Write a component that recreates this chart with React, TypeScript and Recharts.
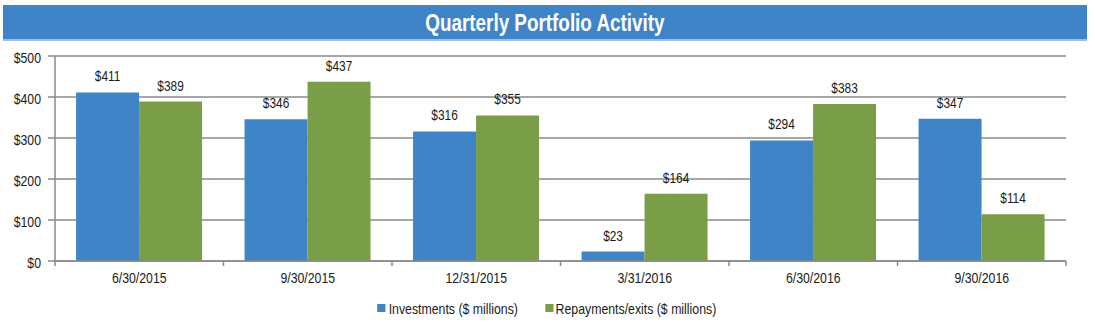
import React from "react";
import { BarChart, Bar, XAxis, YAxis, CartesianGrid, LabelList, Legend } from "recharts";

const categories = ["6/30/2015", "9/30/2015", "12/31/2015", "3/31/2016", "6/30/2016", "9/30/2016"];
const investments = [411, 346, 316, 23, 294, 347];
const repayments = [389, 437, 355, 164, 383, 114];
const yTicks = [0, 100, 200, 300, 400, 500];

const data = categories.map((c, i) => ({ date: c, investments: investments[i], repayments: repayments[i] }));

const FONT = '"Liberation Sans", Arial, sans-serif';
const SX = 0.82;
const BLUE = "#3F84C6";
const GREEN = "#7A9D48";
const GRID = "#8a8a8a";
const TXT = "#1a1a1a";

const XTick = (props: any) => {
  const { x, y, payload, index, visibleTicksCount } = props;
  const half = payload && payload.offset ? payload.offset : 84.25;
  const isLast = index === (visibleTicksCount ?? categories.length) - 1;
  return (
    <g>
      <line x1={x - half} x2={x - half} y1={y - 8} y2={y - 3} stroke={GRID} strokeWidth={1.5} />
      {isLast && <line x1={x + half} x2={x + half} y1={y - 8} y2={y - 3} stroke={GRID} strokeWidth={1.5} />}
      <g transform={`translate(${x},${y + 14}) scale(${SX},1)`}>
        <text x={0} y={0} textAnchor="middle" fontFamily={FONT} fontSize={15} fill={TXT}>
          {payload.value}
        </text>
      </g>
    </g>
  );
};

const YTick = (props: any) => {
  const { x, y, payload } = props;
  return (
    <g transform={`translate(${x},${y + 2}) scale(${SX},1)`}>
      <text x={0} y={0} dy="0.36em" textAnchor="end" fontFamily={FONT} fontSize={15} fill={TXT}>
        {`$${payload.value}`}
      </text>
    </g>
  );
};

const ValueLabel = (props: any) => {
  const { x, y, width, value } = props;
  const cx = x + width / 2;
  return (
    <g transform={`translate(${cx},${y - 11}) scale(${SX},1)`}>
      <text x={0} y={0} textAnchor="middle" fontFamily={FONT} fontSize={14.5} fill={TXT}>
        {`$${value}`}
      </text>
    </g>
  );
};

const LegendContent = () => (
  <div style={{ display: "flex", justifyContent: "center", height: 30, alignItems: "center", paddingLeft: 27, boxSizing: "border-box" }}>
    <div
      style={{
        display: "flex",
        alignItems: "center",
        fontFamily: FONT,
        fontSize: 15,
        color: TXT,
        transform: `scaleX(${SX})`,
        transformOrigin: "center",
        whiteSpace: "nowrap",
      }}
    >
      <span style={{ display: "flex", alignItems: "center", marginRight: 33 }}>
        <span style={{ width: 10, height: 8, background: BLUE, display: "inline-block", marginRight: 4 }} />
        Investments ($ millions)
      </span>
      <span style={{ display: "flex", alignItems: "center" }}>
        <span style={{ width: 10, height: 8, background: GREEN, display: "inline-block", marginRight: 3 }} />
        Repayments/exits ($ millions)
      </span>
    </div>
  </div>
);

export default function App() {
  return (
    <div style={{ position: "absolute", left: 0, top: 0, width: 1095, height: 323, background: "#fff" }}>
      <div
        style={{
          position: "absolute",
          left: 3,
          top: 5,
          width: 1084,
          height: 36,
          background: "#3F84C6",
          borderBottom: "2px solid #9cc0e4",
          display: "flex",
          alignItems: "center",
          justifyContent: "center",
          paddingTop: 2,
          boxSizing: "border-box",
        }}
      >
        <span
          style={{
            color: "#fff",
            fontFamily: FONT,
            fontWeight: "bold",
            fontSize: 23,
            transform: `scaleX(${SX})`,
            whiteSpace: "nowrap",
          }}
        >
          Quarterly Portfolio Activity
        </span>
      </div>
      <BarChart
        width={1095}
        height={323}
        data={data}
        margin={{ top: 56, right: 29, left: 0, bottom: 0 }}
        barCategoryGap="12.5%"
        barGap={0}
      >
        <CartesianGrid vertical={false} stroke={GRID} strokeWidth={1.5} />
        <XAxis
          dataKey="date"
          height={32}
          axisLine={{ stroke: GRID, strokeWidth: 1.5 }}
          tickLine={false}
          tick={<XTick />}
          interval={0}
        />
        <YAxis
          width={55}
          domain={[0, 500]}
          ticks={yTicks}
          axisLine={{ stroke: GRID, strokeWidth: 1.5 }}
          tickLine={{ stroke: GRID, strokeWidth: 1.5 }}
          tickSize={7}
          tickMargin={7}
          tick={<YTick />}
        />
        <Legend verticalAlign="bottom" height={30} content={<LegendContent />} />
        <Bar dataKey="investments" fill={BLUE} isAnimationActive={false}>
          <LabelList dataKey="investments" content={<ValueLabel />} />
        </Bar>
        <Bar dataKey="repayments" fill={GREEN} isAnimationActive={false}>
          <LabelList dataKey="repayments" content={<ValueLabel />} />
        </Bar>
      </BarChart>
    </div>
  );
}
